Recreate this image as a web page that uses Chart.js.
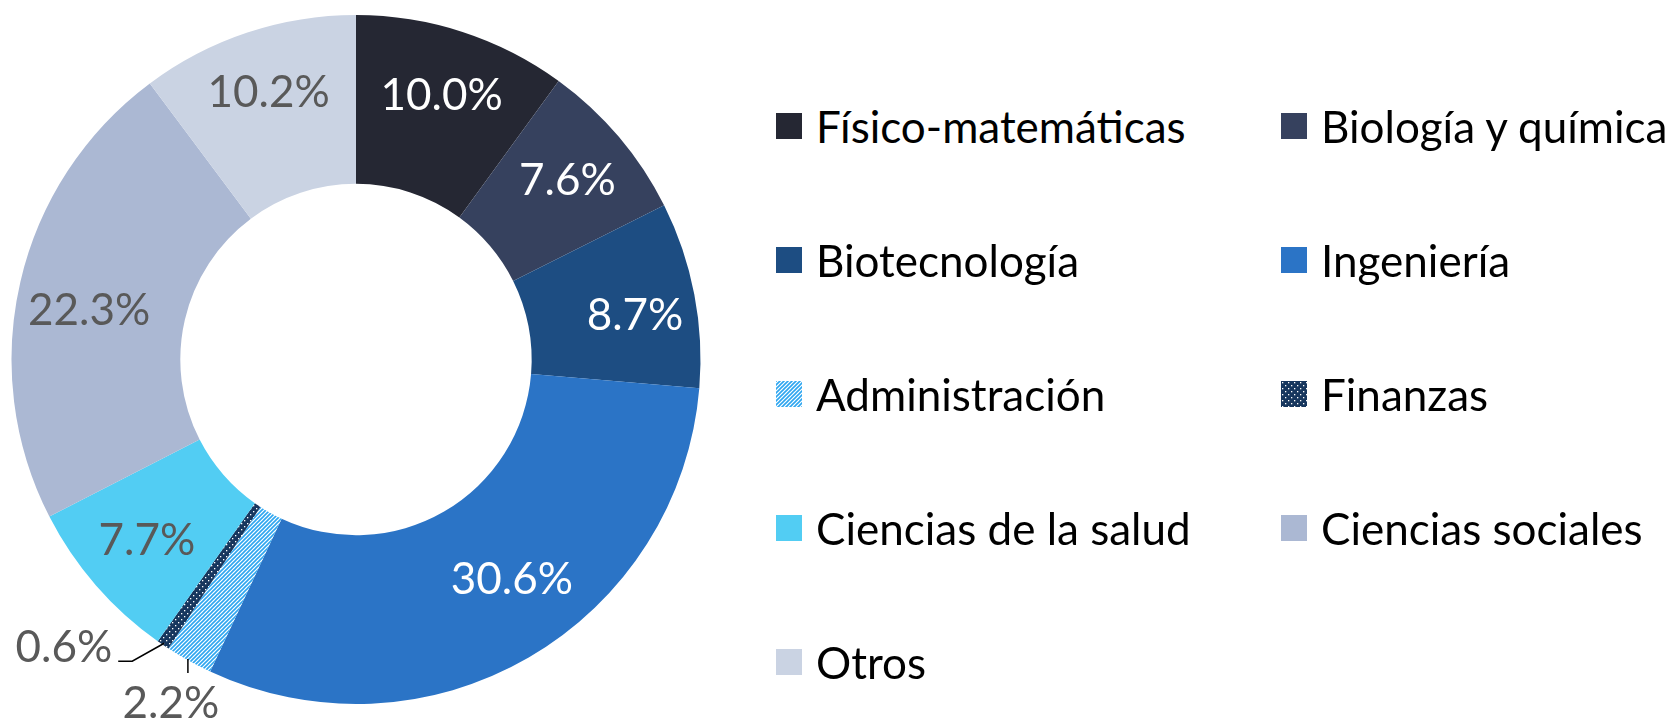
<!DOCTYPE html>
<html>
<head>
<meta charset="utf-8">
<script src="https://cdn.jsdelivr.net/npm/chart.js@4.4.1/dist/chart.umd.min.js"></script>
<style>
    body { margin: 0; background: #fff; width: 1677px; height: 726px; overflow: hidden; font-family: Lato, sans-serif; }
    #wrap { position: absolute; left: 0; top: 0; width: 720px; height: 726px; }
    #legend { position: absolute; left: 776px; top: 59px; display: grid; grid-template-columns: 505px auto; grid-auto-rows: 134px; }
    .item { display: flex; align-items: center; font-size: 44px; color: #000; white-space: nowrap; }
    .item canvas { width: 26px; height: 26px; margin-right: 14px; }
</style>
</head>
<body>
<div id="wrap"><canvas id="chart"></canvas></div>
<div id="legend"></div>
<script>
// Datos del gráfico
const categorias = ['Físico-matemáticas', 'Biología y química', 'Biotecnología', 'Ingeniería',
    'Administración', 'Finanzas', 'Ciencias de la salud', 'Ciencias sociales', 'Otros'];
const porcentajes = [10.0, 7.6, 8.7, 30.6, 2.2, 0.6, 7.7, 22.3, 10.2];
const colores = ['#252733', '#36415E', '#1D4D82', '#2B74C6', 'rayas', 'puntos', '#52CDF3', '#ABB8D3', '#CAD3E3'];
const colorEtiqueta = ['#fff', '#fff', '#fff', '#fff', '#595959', '#595959', '#595959', '#595959', '#595959'];

// Pequeños ajustes de posición de etiquetas (como en Excel)
const ajustes = { 2: [7, 9], 3: [17, -19], 7: [3, 14], 8: [0, -4] };

// Etiquetas con línea guía (desplazamientos respecto al borde exterior)
const guias = {
    4: { codo: [-2, 14], fin: [-2, 14], texto: [-19, 45], align: 'center' },
    5: { codo: [-32, 18], fin: [-46, 18], texto: [-52, 5], align: 'right' }
};

function patronRayas() {
    const c = document.createElement('canvas');
    c.width = 4; c.height = 4;
    const g = c.getContext('2d');
    g.fillStyle = '#fff';
    g.fillRect(0, 0, 4, 4);
    g.strokeStyle = '#2EA6F0';
    g.lineWidth = 1.6;
    g.beginPath();
    g.moveTo(-1, 5); g.lineTo(5, -1);
    g.moveTo(-1, 1); g.lineTo(1, -1);
    g.moveTo(3, 5); g.lineTo(5, 3);
    g.stroke();
    return c;
}

function patronPuntos() {
    const c = document.createElement('canvas');
    c.width = 6; c.height = 6;
    const g = c.getContext('2d');
    g.fillStyle = '#17375E';
    g.fillRect(0, 0, 6, 6);
    g.fillStyle = '#fff';
    g.fillRect(1, 1, 1.3, 1.3);
    g.fillRect(4, 4, 1.3, 1.3);
    return c;
}

function relleno(ctx, color) {
    if (color === 'rayas') return ctx.createPattern(patronRayas(), 'repeat');
    if (color === 'puntos') return ctx.createPattern(patronPuntos(), 'repeat');
    return color;
}

const canvas = document.getElementById('chart');
const ctx = canvas.getContext('2d');
const fondos = colores.map(c => relleno(ctx, c));

const etiquetasPlugin = {
    id: 'etiquetas',
    afterDatasetsDraw(chart) {
        const c = chart.ctx;
        const meta = chart.getDatasetMeta(0);
        c.save();
        c.font = '44px Lato, sans-serif';
        meta.data.forEach((arc, i) => {
            const p = arc.getProps(['x', 'y', 'startAngle', 'endAngle', 'innerRadius', 'outerRadius'], true);
            const mid = (p.startAngle + p.endAngle) / 2;
            const texto = porcentajes[i].toFixed(1) + '%';
            c.fillStyle = colorEtiqueta[i];
            const g = guias[i];
            if (!g) {
                const r = p.innerRadius + 0.6 * (p.outerRadius - p.innerRadius);
                const [dx, dy] = ajustes[i] || [0, 0];
                c.textAlign = 'center';
                c.textBaseline = 'middle';
                c.fillText(texto, p.x + Math.cos(mid) * r + dx, p.y + Math.sin(mid) * r + dy);
                return;
            }
            const ox = p.x + Math.cos(mid) * (p.outerRadius - 2);
            const oy = p.y + Math.sin(mid) * (p.outerRadius - 2);
            c.strokeStyle = '#000';
            c.lineWidth = 1.5;
            c.beginPath();
            c.moveTo(ox + (i === 4 ? -2 : 0), oy);
            c.lineTo(ox + g.codo[0], oy + g.codo[1]);
            c.lineTo(ox + g.fin[0], oy + g.fin[1]);
            c.stroke();
            c.textAlign = g.align;
            c.textBaseline = 'middle';
            c.fillText(texto, ox + g.texto[0], oy + g.texto[1]);
        });
        c.restore();
    }
};

new Chart(ctx, {
    type: 'doughnut',
    data: {
        labels: categorias,
        datasets: [{
            data: porcentajes,
            backgroundColor: fondos,
            borderWidth: 0
        }]
    },
    options: {
        responsive: true,
        maintainAspectRatio: false,
        animation: false,
        cutout: '51%',
        layout: { padding: { left: 11, right: 19, top: 15, bottom: 22 } },
        plugins: {
            legend: { display: false },
            tooltip: { enabled: false }
        }
    },
    plugins: [etiquetasPlugin]
});

// Leyenda en dos columnas
const leyenda = document.getElementById('legend');
categorias.forEach((nombre, i) => {
    const item = document.createElement('div');
    item.className = 'item';
    const sw = document.createElement('canvas');
    sw.width = 26; sw.height = 26;
    const g = sw.getContext('2d');
    g.fillStyle = relleno(g, colores[i]);
    g.fillRect(0, 0, 26, 26);
    item.appendChild(sw);
    item.appendChild(document.createTextNode(nombre));
    leyenda.appendChild(item);
});
</script>
</body>
</html>
